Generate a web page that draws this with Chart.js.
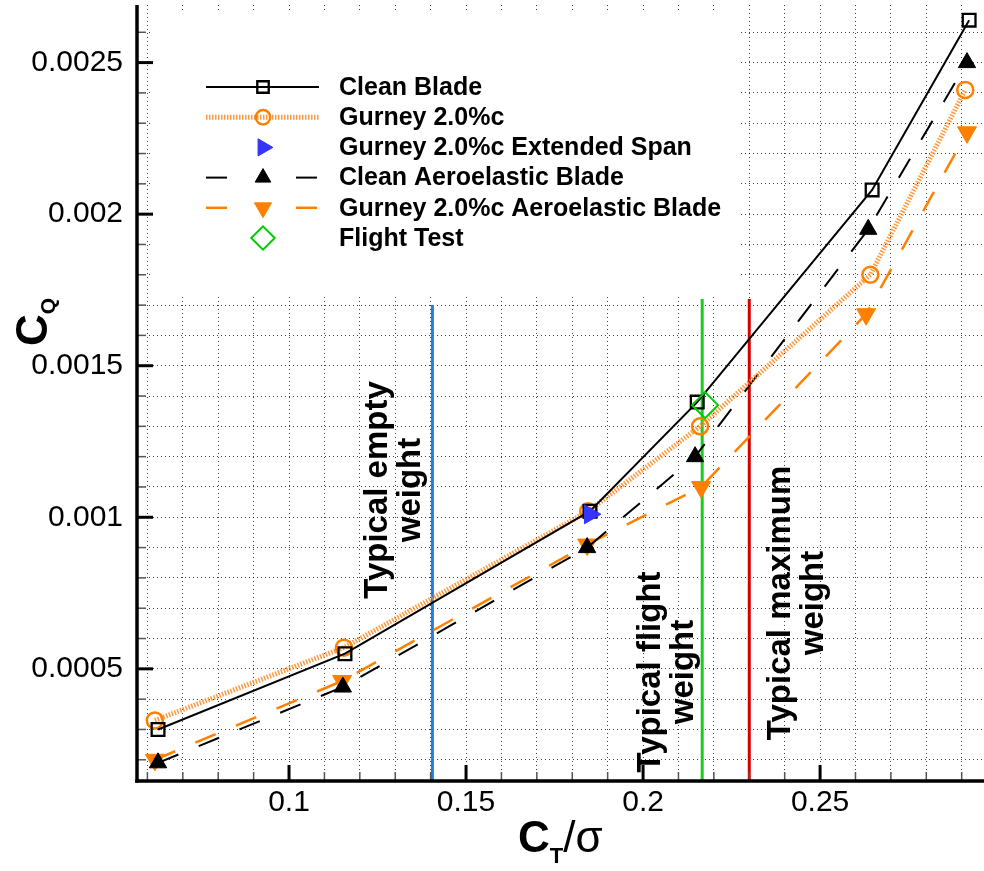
<!DOCTYPE html>
<html>
<head>
<meta charset="utf-8">
<title>CQ vs CT/sigma</title>
<script src="https://cdn.jsdelivr.net/npm/chart.js@4.4.1/dist/chart.umd.min.js"></script>
<style>
  html, body { margin: 0; padding: 0; background: #fff; }
  #wrap { width: 984px; height: 871px; }
</style>
</head>
<body>
<div id="wrap"><canvas id="chart" width="984" height="871"></canvas></div>
<script>
// === DATA ===
const seriesNames = [
  "Clean Blade",
  "Gurney 2.0%c",
  "Gurney 2.0%c Extended Span",
  "Clean Aeroelastic Blade",
  "Gurney 2.0%c Aeroelastic Blade",
  "Flight Test"
];

const cleanX = [0.063, 0.1158, 0.185, 0.2153, 0.2647, 0.2921];
const cleanY = [0.0003, 0.00055, 0.00102, 0.00138, 0.00208, 0.00264];

const gurneyX = [0.0621, 0.1155, 0.1845, 0.2161, 0.2642, 0.291];
const gurneyY = [0.00033, 0.00057, 0.00102, 0.0013, 0.0018, 0.00241];

const extSpanX = [0.185];
const extSpanY = [0.00101];

const cleanAeroX = [0.063, 0.1152, 0.1842, 0.2147, 0.2636, 0.2915];
const cleanAeroY = [0.00019, 0.00044, 0.0009, 0.0012, 0.00195, 0.0025];

const gurneyAeroX = [0.0621, 0.115, 0.1842, 0.2164, 0.263, 0.2915];
const gurneyAeroY = [0.0002, 0.00046, 0.00091, 0.0011, 0.00167, 0.00227];

const flightX = [0.2175];
const flightY = [0.00137];

// vertical "typical weight" markers
const weightX = [0.1405, 0.2167, 0.23];
const weightTop = [0.0017, 0.00172, 0.00172];
const weightLabels = [
  ["Typical empty", "weight"],
  ["Typical flight", "weight"],
  ["Typical maximum", "weight"]
];

// axes
const xMin = 0.05706, xMax = 0.2963;
const yMin = 0.00013, yMax = 0.00269;
const xMajorTicks = [0.1, 0.15, 0.2, 0.25];
const xTickLabels = ["0.1", "0.15", "0.2", "0.25"];
const yMajorTicks = [0.0005, 0.001, 0.0015, 0.002, 0.0025];
const yTickLabels = ["0.0005", "0.001", "0.0015", "0.002", "0.0025"];
const xMinorStep = 0.01;
const yMinorStep = 0.0001;
// =================

const FONT = "'Liberation Sans', Arial, Helvetica, sans-serif";

function pts(xs, ys) { return xs.map((x, i) => ({ x, y: ys[i] })); }

function steps(min, max, step) {
  const out = [];
  for (let k = Math.ceil(min / step - 1e-9); k * step <= max + 1e-12; k++) out.push(+(k * step).toFixed(7));
  return out;
}

const xGrid = steps(xMin, xMax, xMinorStep);
const yGrid = steps(yMin, yMax, yMinorStep);

function majorIndex(v, majors) {
  return majors.findIndex(m => Math.abs(m - v) < 1e-9);
}

function line(ctx, x1, y1, x2, y2) {
  ctx.beginPath(); ctx.moveTo(x1, y1); ctx.lineTo(x2, y2); ctx.stroke();
}

// ===============================
// DECORATION PLUGIN
// ===============================
const plotDecor = {
  id: "plotDecor",
  beforeDatasetsDraw(chart) {
    // legend sits on a white box that hides the grid
    const ctx = chart.ctx;
    ctx.save();
    ctx.fillStyle = "#fff";
    ctx.fillRect(152, 13, 586, 283);
    ctx.restore();
  },
  afterDraw(chart) {
    drawAxes(chart);
    drawWeightLabels(chart);
    drawTitles(chart);
    drawLegend(chart);
  }
};

function drawAxes(chart) {
  const { ctx, chartArea: a, scales: { x, y } } = chart;
  ctx.save();
  // minor ticks (inward)
  ctx.strokeStyle = "#555";
  ctx.lineWidth = 1.5;
  xGrid.forEach(v => {
    if (majorIndex(v, xMajorTicks) >= 0) return;
    const px = x.getPixelForValue(v);
    line(ctx, px, a.bottom, px, a.bottom - 9);
  });
  yGrid.forEach(v => {
    if (majorIndex(v, yMajorTicks) >= 0) return;
    const py = y.getPixelForValue(v);
    line(ctx, a.left, py, a.left + 9, py);
  });
  // major ticks
  ctx.strokeStyle = "#000";
  ctx.lineWidth = 3;
  xMajorTicks.forEach(v => {
    const px = x.getPixelForValue(v);
    line(ctx, px, a.bottom, px, a.bottom - 16);
  });
  yMajorTicks.forEach(v => {
    const py = y.getPixelForValue(v);
    line(ctx, a.left, py, a.left + 16, py);
  });
  // axis lines
  ctx.lineWidth = 3.5;
  line(ctx, a.left, a.top, a.left, a.bottom + 1.75);
  line(ctx, a.left - 1.75, a.bottom, a.right, a.bottom);
  ctx.restore();
}

function drawWeightLabels(chart) {
  const ctx = chart.ctx;
  const centers = [[394, 490], [667, 672], [797, 603]];
  ctx.save();
  ctx.fillStyle = "#000";
  ctx.font = "bold 33px " + FONT;
  ctx.textAlign = "center";
  ctx.textBaseline = "middle";
  weightLabels.forEach((lines, i) => {
    ctx.save();
    ctx.translate(centers[i][0], centers[i][1]);
    ctx.rotate(-Math.PI / 2);
    ctx.fillText(lines[0], 0, -16.5);
    ctx.fillText(lines[1], 0, 17);
    ctx.restore();
  });
  ctx.restore();
}

function drawTitles(chart) {
  const ctx = chart.ctx;
  ctx.save();
  ctx.fillStyle = "#000";
  ctx.textAlign = "left";
  ctx.textBaseline = "alphabetic";

  // x title: C_T / sigma
  let px = 518;
  ctx.font = "bold 44px " + FONT;
  ctx.fillText("C", px, 852);
  px += ctx.measureText("C").width;
  ctx.font = "bold 22px " + FONT;
  ctx.fillText("T", px, 863);
  px += ctx.measureText("T").width;
  ctx.font = "44px " + FONT;
  ctx.fillText("/\u03c3", px, 852);

  // y title: C_Q
  ctx.translate(47, 346);
  ctx.rotate(-Math.PI / 2);
  ctx.font = "bold 44px " + FONT;
  ctx.fillText("C", 0, 0);
  const w = ctx.measureText("C").width;
  ctx.font = "bold 21px " + FONT;
  ctx.fillText("Q", w, 8);
  ctx.restore();
}

function drawMarker(ctx, ds, x, y) {
  ctx.save();
  ctx.fillStyle = ds.pointBackgroundColor;
  ctx.strokeStyle = ds.pointBorderColor;
  ctx.lineWidth = ds.pointBorderWidth;
  ctx.setLineDash([]);
  Chart.helpers.drawPoint(ctx, {
    pointStyle: ds.pointStyle,
    radius: ds.pointRadius * 0.9,
    rotation: ds.pointRotation || 0,
    borderWidth: ds.pointBorderWidth
  }, x, y);
  ctx.restore();
}

function drawLegend(chart) {
  const ctx = chart.ctx;
  const x0 = 206, x1 = 319, xm = 263, xt = 339;
  ctx.save();
  for (let i = 0; i < seriesNames.length; i++) {
    const ds = chart.data.datasets[i];
    const ry = 87 + i * 30.2;
    if (ds.showLine) {
      ctx.strokeStyle = ds.borderColor;
      ctx.lineWidth = ds.borderWidth;
      const dash = ds.borderDash || [];
      if (dash.length && dash[0] > 5) {
        ctx.setLineDash([]);
        line(ctx, x0, ry, x0 + 21, ry);
        line(ctx, x1 - 23, ry, x1 - 2, ry);
      } else {
        ctx.setLineDash(dash);
        line(ctx, x0, ry, x1, ry);
      }
    }
    drawMarker(ctx, ds, xm, ry);
    ctx.setLineDash([]);
    ctx.fillStyle = "#000";
    ctx.font = "bold 25px " + FONT;
    ctx.textAlign = "left";
    ctx.textBaseline = "middle";
    ctx.fillText(seriesNames[i], xt, ry + 1);
  }
  ctx.restore();
}

// ===============================
// CHART
// ===============================
const weightColors = ["#1e7fe0", "#1ccc1c", "#d40000"];

const datasets = [
  {
    label: seriesNames[0], data: pts(cleanX, cleanY), showLine: true,
    borderColor: "#000", borderWidth: 2,
    pointStyle: "rect", pointRadius: 9, pointBorderWidth: 2.3,
    pointBorderColor: "#000", pointBackgroundColor: "rgba(0,0,0,0)"
  },
  {
    label: seriesNames[1], data: pts(gurneyX, gurneyY), showLine: true,
    borderColor: "rgba(255,135,30,0.85)", borderWidth: 5, borderDash: [1.5, 1.5],
    pointStyle: "circle", pointRadius: 8, pointBorderWidth: 2.5,
    pointBorderColor: "#ff8000", pointBackgroundColor: "rgba(0,0,0,0)"
  },
  {
    label: seriesNames[2], data: pts(extSpanX, extSpanY), showLine: false, order: -1,
    pointStyle: "triangle", pointRotation: 90, pointRadius: 11, pointBorderWidth: 1,
    pointBorderColor: "#3535ff", pointBackgroundColor: "#3535ff"
  },
  {
    label: seriesNames[3], data: pts(cleanAeroX, cleanAeroY), showLine: true,
    borderColor: "#000", borderWidth: 2, borderDash: [22, 22],
    pointStyle: "triangle", pointRadius: 10, pointBorderWidth: 1,
    pointBorderColor: "#000", pointBackgroundColor: "#000"
  },
  {
    label: seriesNames[4], data: pts(gurneyAeroX, gurneyAeroY), showLine: true,
    borderColor: "#ff8000", borderWidth: 2.5, borderDash: [22, 22],
    pointStyle: "triangle", pointRotation: 180, pointRadius: 11, pointBorderWidth: 1,
    pointBorderColor: "#ff8000", pointBackgroundColor: "#ff8000"
  },
  {
    label: seriesNames[5], data: pts(flightX, flightY), showLine: false, order: -1,
    pointStyle: "rectRot", pointRadius: 13, pointBorderWidth: 2,
    pointBorderColor: "#00cc00", pointBackgroundColor: "rgba(0,0,0,0)"
  }
];

weightX.forEach((wx, i) => {
  datasets.push({
    label: weightLabels[i].join(" "),
    data: [{ x: wx, y: yMin }, { x: wx, y: weightTop[i] }],
    showLine: true, borderColor: weightColors[i], borderWidth: 3, pointRadius: 0
  });
});

function scaleOpts(min, max, grid, majors, labels, extra) {
  return Object.assign({
    type: "linear", min, max,
    afterBuildTicks: s => { s.ticks = grid.map(v => ({ value: v })); },
    grid: { color: "rgba(0,0,0,0.75)", lineWidth: 1, drawTicks: false },
    border: { display: false, dash: [1, 3] },
    ticks: {
      autoSkip: false, maxRotation: 0, color: "#000",
      font: { family: FONT, size: 30 },
      callback: v => { const k = majorIndex(v, majors); return k >= 0 ? labels[k] : ""; }
    }
  }, extra);
}

const xScale = scaleOpts(xMin, xMax, xGrid, xMajorTicks, xTickLabels, {
  afterFit: s => { s.height = 90; s.paddingLeft = 0; s.paddingRight = 0; }
});
xScale.ticks.padding = 4;

const yScale = scaleOpts(yMin, yMax, yGrid, yMajorTicks, yTickLabels, {
  afterFit: s => { s.width = 137; s.paddingTop = 0; s.paddingBottom = 0; }
});
yScale.ticks.padding = 14;

new Chart(document.getElementById("chart"), {
  type: "scatter",
  data: { datasets },
  options: {
    responsive: false,
    animation: false,
    devicePixelRatio: 1,
    layout: { autoPadding: false, padding: { top: 5, right: 0, bottom: 0, left: 0 } },
    plugins: { legend: { display: false }, tooltip: { enabled: false } },
    scales: { x: xScale, y: yScale }
  },
  plugins: [plotDecor]
});
</script>
</body>
</html>
